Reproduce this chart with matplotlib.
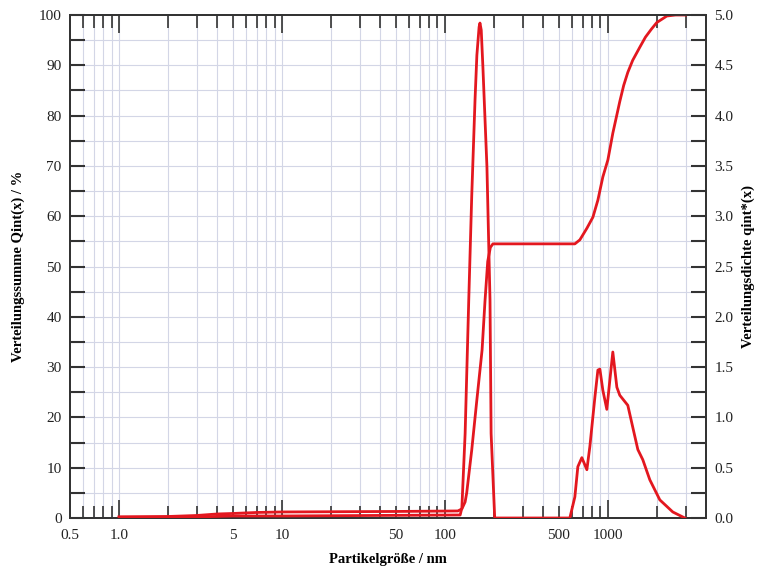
"""
Partikelgrößenverteilung: Verteilungssumme Qint(x) und Verteilungsdichte qint*(x)
"""

import matplotlib

matplotlib.use("Agg")
import matplotlib.pyplot as plt
from matplotlib.ticker import FixedLocator, NullFormatter

# Verteilungssumme (linke Achse, %)
size_sum = [1.0, 2.0, 3.0, 4.0, 5.0, 7.0, 10, 50, 120, 127, 133, 136, 146, 157,
            169, 176, 183, 190, 197, 627, 673, 743, 809, 868, 931, 1000, 1072,
            1183, 1250, 1325, 1420, 1570, 1700, 1850, 1995, 2300, 2600, 3000]
q_sum = [0.2, 0.3, 0.5, 0.8, 0.9, 1.1, 1.2, 1.3, 1.4, 1.8, 3.2, 5.0, 13.5, 23.5,
         33.4, 43.0, 51.0, 53.8, 54.5, 54.5, 55.3, 57.6, 59.8, 63.2, 67.8, 71.2,
         76.5, 82.8, 86.0, 88.6, 91.0, 93.6, 95.6, 97.2, 98.5, 99.8, 100.0, 100.0]

# Verteilungsdichte (rechte Achse)
size_dens = [1.0, 3.0, 5.0, 10, 124, 127, 133, 140, 146, 153, 157, 162, 164, 167,
             171, 181, 189, 192, 202, 584, 627, 654, 692, 743, 775, 832, 868, 893,
             931, 985, 1028, 1072, 1135, 1183, 1325, 1422, 1527, 1637, 1808, 2083,
             2501, 2966]
q_dens = [0.01, 0.01, 0.02, 0.02, 0.03, 0.10, 0.84, 2.17, 3.20, 4.16, 4.60, 4.88,
          4.92, 4.85, 4.48, 3.49, 2.17, 0.84, 0.0, 0.0, 0.21, 0.51, 0.60, 0.48,
          0.71, 1.20, 1.47, 1.48, 1.27, 1.08, 1.37, 1.65, 1.30, 1.22, 1.12, 0.90,
          0.68, 0.58, 0.38, 0.18, 0.06, 0.0]

x_major = [0.5, 1.0, 5, 10, 50, 100, 500, 1000]
x_labels = ["0.5", "1.0", "5", "10", "50", "100", "500", "1000"]

red = "#e3171f"
grid_col = "#d3d6e6"
plt.rcParams["font.family"] = ["Liberation Serif", "DejaVu Serif"]

fig = plt.figure(figsize=(7.61, 5.72), dpi=100)
ax = fig.add_axes([70 / 761, 54 / 572, 636 / 761, 503 / 572])
ax2 = ax.twinx()

ax.set_xscale("log")
ax.set_xlim(0.5, 4000)
ax.set_ylim(0, 100)
ax2.set_ylim(0, 5.0)

# Gitter: alle Zwischenwerte der log-Achse, horizontal alle 5 %
minor_x = []
for dec in [0.1, 1, 10, 100, 1000]:
    for m in range(1, 10):
        v = round(m * dec, 4)
        if 0.5 < v < 4000 and v not in (1.0, 10, 100, 1000):
            minor_x.append(v)
major_x = [1.0, 10, 100, 1000]
for v in minor_x + major_x:
    ax.axvline(v, color=grid_col, lw=0.8, zorder=0)
for v in range(5, 100, 5):
    ax.axhline(v, color=grid_col, lw=0.8, zorder=0)

ax.plot(size_sum, q_sum, color=red, lw=2.0, zorder=3)
ax2.plot(size_dens, q_dens, color=red, lw=2.0, zorder=3)

# x-Achse
ax.xaxis.set_major_locator(FixedLocator(major_x))
ax.xaxis.set_major_formatter(NullFormatter())
ax.xaxis.set_minor_locator(FixedLocator(minor_x))
ax.xaxis.set_minor_formatter(NullFormatter())
ax.tick_params(axis="x", which="major", direction="in", length=13, width=1.2,
               top=True, bottom=True, color="#333333")
ax.tick_params(axis="x", which="minor", direction="in", length=9, width=1.2,
               top=True, bottom=True, color="#333333")
for v, s in zip(x_major, x_labels):
    ax.text(v, -2.2, s, ha="center", va="top", fontsize=11, color="#222222")

# linke y-Achse
ax.set_yticks(range(0, 101, 10))
ax.set_yticks(range(5, 100, 10), minor=True)
ax.tick_params(axis="y", which="both", direction="in", length=11, width=1.5,
               labelsize=11, labelcolor="#222222", color="#333333", pad=6)

# rechte y-Achse
ax2.set_yticks([i * 0.5 for i in range(11)])
ax2.set_yticklabels(["%.1f" % (i * 0.5) for i in range(11)])
ax2.set_yticks([i * 0.5 + 0.25 for i in range(10)], minor=True)
ax2.tick_params(axis="y", which="both", direction="in", length=11, width=1.5,
                labelsize=11, labelcolor="#222222", color="#333333", pad=6)

for a in (ax, ax2):
    for sp in a.spines.values():
        sp.set_linewidth(1.3)
        sp.set_color("#333333")

ax.set_xlabel("Partikelgröße / nm", fontsize=10.5, fontweight="bold", labelpad=22)
ax.set_ylabel("Verteilungssumme Qint(x) / %", fontsize=10.5, fontweight="bold",
              labelpad=10)
ax2.set_ylabel("Verteilungsdichte qint*(x)", fontsize=10.5, fontweight="bold",
               labelpad=6)

fig.savefig("out.png", dpi=100)
